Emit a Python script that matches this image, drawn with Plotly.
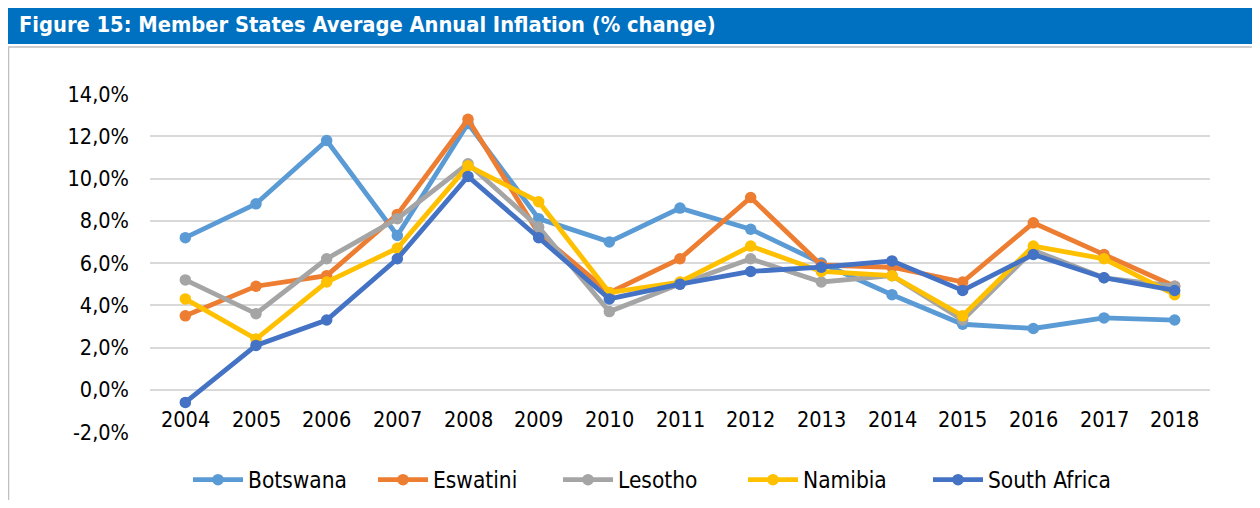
import plotly.graph_objects as go

years = [str(y) for y in range(2004, 2019)]
botswana = [7.2, 8.8, 11.8, 7.3, 12.6, 8.1, 7.0, 8.6, 7.6, 6.0, 4.5, 3.1, 2.9, 3.4, 3.3]
eswatini = [3.5, 4.9, 5.4, 8.3, 12.8, 7.4, 4.6, 6.2, 9.1, 5.9, 5.8, 5.1, 7.9, 6.4, 4.9]
lesotho = [5.2, 3.6, 6.2, 8.1, 10.7, 7.7, 3.7, 5.0, 6.2, 5.1, 5.4, 3.3, 6.6, 5.3, 4.9]
namibia = [4.3, 2.4, 5.1, 6.7, 10.6, 8.9, 4.6, 5.1, 6.8, 5.6, 5.4, 3.5, 6.8, 6.2, 4.5]
south_africa = [-0.6, 2.1, 3.3, 6.2, 10.1, 7.2, 4.3, 5.0, 5.6, 5.8, 6.1, 4.7, 6.4, 5.3, 4.7]

y_ticks = [-2, 0, 2, 4, 6, 8, 10, 12, 14]
y_tick_labels = ["-2,0%", "0,0%", "2,0%", "4,0%", "6,0%", "8,0%", "10,0%", "12,0%", "14,0%"]

series = [
    ("Botswana", botswana, "#5B9BD5"),
    ("Eswatini", eswatini, "#ED7D31"),
    ("Lesotho", lesotho, "#A5A5A5"),
    ("Namibia", namibia, "#FFC000"),
    ("South Africa", south_africa, "#4472C4"),
]

# the page body has an 8px margin, so the figure starts at (8, 8) of the window
OFF = 8
W, H = 1252, 492
L, R, T, B = 142, 50, 86, 68
pw, ph = W - L - R, H - T - B


def px(x):
    return (x - OFF - L) / pw


def py(y):
    return (H - B - (y - OFF)) / ph


FONT = "DejaVu Sans Condensed, DejaVu Sans, sans-serif"

fig = go.Figure()
for name, vals, color in series:
    fig.add_trace(go.Scatter(
        x=years, y=vals, name=name, mode="lines+markers",
        line=dict(color=color, width=4.8),
        marker=dict(color=color, size=11.5),
    ))

fig.update_layout(
    width=W, height=H,
    margin=dict(l=L, r=R, t=T, b=B, autoexpand=False),
    paper_bgcolor="white", plot_bgcolor="white",
    font=dict(family=FONT, color="black"),
    showlegend=True,
    # legend placed in container coords so it does not push the margins
    legend=dict(orientation="h", xref="container", yref="container",
                x=(188 - OFF) / W, xanchor="left", y=(H - (480 - OFF)) / H, yanchor="middle",
                font=dict(size=22.5), itemwidth=50, entrywidth=120, traceorder="normal"),
    xaxis=dict(type="category", range=[-0.5, 14.5], showticklabels=False,
               showgrid=False, zeroline=False, showline=False),
    yaxis=dict(range=[-2, 14], tickvals=y_ticks, ticktext=y_tick_labels,
               showgrid=True, gridcolor="#D9D9D9", gridwidth=1.5, zeroline=False,
               ticks="", ticklabelstandoff=20, tickfont=dict(size=21.5)),
    shapes=[
        dict(type="rect", xref="paper", yref="paper", x0=px(7), x1=px(1265), y0=py(6), y1=py(44),
             fillcolor="#0070C0", line=dict(width=0), layer="below"),
        dict(type="rect", xref="paper", yref="paper", x0=px(8.5), x1=px(1275), y0=py(47), y1=py(530),
             fillcolor="rgba(0,0,0,0)", line=dict(color="#BFBFBF", width=1.5)),
    ],
)

# category labels sit next to the 0 line, like the original Excel chart
for i, yr in enumerate(years):
    fig.add_annotation(x=i, y=0, text=yr, showarrow=False, yanchor="top", yshift=-15,
                       font=dict(size=21.5, color="black"))

fig.add_annotation(xref="paper", yref="paper", x=px(17), y=py(25), xanchor="left", yanchor="middle",
                   text="<b>Figure 15: Member States Average Annual Inflation (% change)</b>",
                   showarrow=False, font=dict(size=21.7, color="white"))

fig.write_html("out.html")
